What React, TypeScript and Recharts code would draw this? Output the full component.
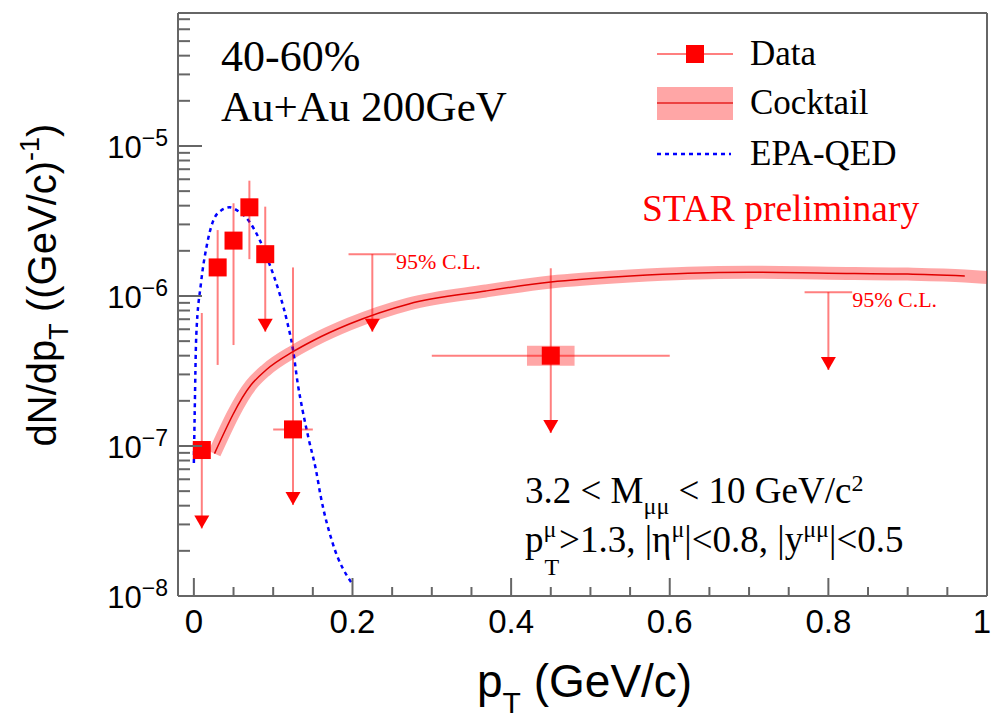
import React from 'react';
import {
  ComposedChart,
  XAxis,
  YAxis,
  Line,
  Scatter,
  ErrorBar,
  ReferenceArea,
  ReferenceLine,
} from 'recharts';

const W = 992;
const H = 719;
const X_MIN = -0.02;
const X_MAX = 1.0;
const Y_MIN = 1e-8;
const Y_MAX = 7.7e-5;

// measured points
const dataPt = [0.01, 0.03, 0.05, 0.07, 0.09, 0.125, 0.45];
const dataVal = [9.4e-8, 1.55e-6, 2.34e-6, 3.9e-6, 1.9e-6, 1.29e-7, 4.0e-7];
const dataUp = [7.7e-7, 2.75e-6, 4.15e-6, 5.87e-6, 3.94e-6, 1.55e-6, 1.53e-6];
const dataDown = [2.82e-8, 3.47e-7, 4.71e-7, 1.76e-6, 5.78e-7, 4.04e-8, 1.22e-7];
const dataArrow = [true, false, false, false, true, true, true];
const dataXErr = [0, 0, 0, 0, 0, 0.025, 0.15];

// systematic box (0.45 point)
const sysPt = 0.45;
const sysHalf = 0.03;
const sysLo = 3.43e-7;
const sysHi = 4.66e-7;

// 95% C.L. upper limits
const limitPt = [0.225, 0.8];
const limitVal = [1.9e-6, 1.06e-6];
const limitTip = [5.78e-7, 3.21e-7];
const limitXErr = [0.03, 0.03];

// bins drawn on the bottom edge
const zeroBinLo = [0.187, 0.758];
const zeroBinHi = [0.26, 0.836];

// cocktail
const cocktailPt = [0.026, 0.072, 0.091, 0.125, 0.15, 0.196, 0.271, 0.368, 0.45, 0.55, 0.623, 0.7, 0.8, 0.9, 0.972];
const cocktailVal = [8.9e-8, 2.55e-7, 3.21e-7, 4.25e-7, 5.03e-7, 6.5e-7, 8.85e-7, 1.08e-6, 1.24e-6, 1.36e-6, 1.42e-6, 1.44e-6, 1.42e-6, 1.4e-6, 1.36e-6];
const bandEndPt = 1.0;
const bandEndVal = 1.33e-6;

// EPA-QED
const epaPt = [0.0, 0.001, 0.003, 0.009, 0.016, 0.024, 0.035, 0.045, 0.057, 0.07, 0.083, 0.095, 0.108, 0.118, 0.125, 0.131, 0.137, 0.145, 0.154, 0.16, 0.175, 0.199];
const epaVal = [7.7e-8, 1.6e-7, 5.4e-7, 1.22e-6, 2.13e-6, 3.13e-6, 3.74e-6, 3.9e-6, 3.65e-6, 3.13e-6, 2.36e-6, 1.65e-6, 1.04e-6, 6.6e-7, 4.4e-7, 2.6e-7, 1.74e-7, 1.1e-7, 6.9e-8, 4.6e-8, 2.25e-8, 1.22e-8];

const xTicks = [0, 0.05, 0.1, 0.15, 0.2, 0.25, 0.3, 0.35, 0.4, 0.45, 0.5, 0.55, 0.6, 0.65, 0.7, 0.75, 0.8, 0.85, 0.9, 0.95, 1.0];
const yDecades = [1e-8, 1e-7, 1e-6, 1e-5];
const yExpLabels = ['\u22128', '\u22127', '\u22126', '\u22125'];
const yMantissa = [2, 3, 4, 5, 6, 7, 8, 9];

const yTicks = [
  ...yDecades,
  ...yDecades.flatMap((d) => yMantissa.map((m) => m * d)).filter((v) => v <= Y_MAX),
];

const RED = '#ff0000';
const BAR = 'rgba(255,0,0,0.5)';
const FRAME = '#666';
const SANS = '"Liberation Sans", Arial, sans-serif';
const SERIF = '"Liberation Serif", "Times New Roman", serif';

const points = dataPt.map((x, i) => ({
  x,
  y: dataVal[i],
  ex: dataXErr[i],
  ey: [dataVal[i] - dataDown[i], dataUp[i] - dataVal[i]],
}));
const arrows = [
  ...dataPt.map((x, i) => ({ x, y: dataDown[i], on: dataArrow[i] })).filter((p) => p.on),
  ...limitPt.map((x, i) => ({ x, y: limitTip[i], on: true })),
];
const limits = limitPt.map((x, i) => ({
  x,
  y: limitVal[i],
  ex: limitXErr[i],
  ey: [limitVal[i] - limitTip[i], 0],
}));
const limitLabels = limitPt.map((x, i) => ({ x: x + limitXErr[i], y: limitVal[i] }));
const cocktail = cocktailPt.map((x, i) => ({ x, y: cocktailVal[i] }));
const band = [...cocktail, { x: bandEndPt, y: bandEndVal }];
const epa = epaPt.map((x, i) => ({ x, y: epaVal[i] }));

const XTick = (props: any) => {
  const { x, y, payload } = props;
  const v = payload.value;
  const major = Math.abs(v * 5 - Math.round(v * 5)) < 1e-6;
  const last = v >= X_MAX - 1e-9;
  return (
    <g>
      <line x1={x} x2={x} y1={y} y2={y - (major ? 18 : 9)} stroke={FRAME} strokeWidth={2} />
      {major && (
        <text
          x={last ? x + 4 : x}
          y={y + 37}
          textAnchor={last ? 'end' : 'middle'}
          fontSize={33}
          fontFamily={SANS}
          fill="#000"
        >
          {String(Math.round(v * 10) / 10)}
        </text>
      )}
    </g>
  );
};

const YTick = (props: any) => {
  const { x, y, payload } = props;
  const idx = yDecades.findIndex((d) => Math.abs(d - payload.value) / d < 1e-6);
  const major = idx >= 0;
  return (
    <g>
      <line x1={x} x2={x + (major ? 24 : 12)} y1={y} y2={y} stroke={FRAME} strokeWidth={2} />
      {major && (
        <text x={x - 10} y={y + 12} textAnchor="end" fontSize={31} fontFamily={SANS} fill="#000">
          10
          <tspan dy={-11.6} fontSize={23}>
            {yExpLabels[idx]}
          </tspan>
        </text>
      )}
    </g>
  );
};

const Square = (props: any) => {
  const { cx, cy } = props;
  return <rect x={cx - 9} y={cy - 9} width={18} height={18} fill={RED} />;
};

const ArrowHead = (props: any) => {
  const { cx, cy } = props;
  return <polygon points={`${cx - 7.5},${cy - 13} ${cx + 7.5},${cy - 13} ${cx},${cy}`} fill={RED} />;
};

const Nothing = () => <g />;

const ClLabel = (props: any) => {
  const { cx, cy } = props;
  return (
    <text x={cx} y={cy + 15} fontSize={22} fontFamily={SERIF} fill={RED}>
      95% C.L.
    </text>
  );
};

export default function App() {
  return (
    <div style={{ position: 'absolute', left: 0, top: 0, width: W, height: H, background: '#fff' }}>
      <ComposedChart
        width={W}
        height={H}
        margin={{ top: 13, right: 5, bottom: 0, left: 0 }}
        style={{ fontFamily: SANS }}
      >
        <XAxis
          dataKey="x"
          type="number"
          domain={[X_MIN, X_MAX]}
          allowDataOverflow
          ticks={xTicks}
          tick={<XTick />}
          tickSize={0}
          tickMargin={0}
          height={123}
          axisLine={{ stroke: FRAME, strokeWidth: 2 }}
          interval={0}
        />
        <YAxis
          type="number"
          scale="log"
          domain={[Y_MIN, Y_MAX]}
          allowDataOverflow
          ticks={yTicks}
          tick={<YTick />}
          tickSize={0}
          tickMargin={0}
          width={178}
          axisLine={{ stroke: FRAME, strokeWidth: 2 }}
          interval={0}
        />
        <ReferenceLine x={X_MAX} stroke={FRAME} strokeWidth={2} />
        <ReferenceLine y={Y_MAX} stroke={FRAME} strokeWidth={2} />
        {zeroBinLo.map((lo, i) => (
          <ReferenceLine
            key={`zb${i}`}
            segment={[{ x: lo, y: Y_MIN }, { x: zeroBinHi[i], y: Y_MIN }]}
            stroke={RED}
            strokeOpacity={0.6}
            strokeWidth={2}
          />
        ))}
        <ReferenceArea
          x1={sysPt - sysHalf}
          x2={sysPt + sysHalf}
          y1={sysLo}
          y2={sysHi}
          fill={RED}
          fillOpacity={0.35}
          stroke="none"
        />
        <Line
          data={band}
          dataKey="y"
          type="monotone"
          stroke={RED}
          strokeOpacity={0.35}
          strokeWidth={13}
          dot={false}
          activeDot={false}
          isAnimationActive={false}
        />
        <Line
          data={cocktail}
          dataKey="y"
          type="monotone"
          stroke="#e00000"
          strokeWidth={1.5}
          dot={false}
          activeDot={false}
          isAnimationActive={false}
        />
        <Line
          data={epa}
          dataKey="y"
          type="monotone"
          stroke="#0000ff"
          strokeWidth={2.5}
          strokeDasharray="4 4"
          dot={false}
          activeDot={false}
          isAnimationActive={false}
        />
        <Scatter data={limits} dataKey="y" shape={<Nothing />} isAnimationActive={false}>
          <ErrorBar dataKey="ex" direction="x" width={0} stroke={BAR} strokeWidth={2} />
          <ErrorBar dataKey="ey" direction="y" width={0} stroke={BAR} strokeWidth={2} />
        </Scatter>
        <Scatter data={points} dataKey="y" shape={<Square />} isAnimationActive={false}>
          <ErrorBar dataKey="ex" direction="x" width={0} stroke={BAR} strokeWidth={2} />
          <ErrorBar dataKey="ey" direction="y" width={0} stroke={BAR} strokeWidth={2} />
        </Scatter>
        <Scatter data={arrows} dataKey="y" shape={<ArrowHead />} isAnimationActive={false} />
        <Scatter data={limitLabels} dataKey="y" shape={<ClLabel />} isAnimationActive={false} />
      </ComposedChart>

      <svg
        width={W}
        height={H}
        style={{ position: 'absolute', left: 0, top: 0, pointerEvents: 'none' }}
      >
        {/* system labels */}
        <text x={221} y={70.7} fontSize={44} fontFamily={SERIF} fill="#000">40-60%</text>
        <text x={221} y={120.7} fontSize={43} fontFamily={SERIF} fill="#000">Au+Au 200GeV</text>

        {/* legend */}
        <line x1={657} x2={733} y1={54} y2={54} stroke={BAR} strokeWidth={2} />
        <rect x={686} y={45} width={18} height={18} fill={RED} />
        <text x={750} y={65} fontSize={35} fontFamily={SERIF} fill="#000">Data</text>
        <rect x={657} y={87} width={76} height={33} fill={RED} fillOpacity={0.35} />
        <line x1={657} x2={733} y1={103} y2={103} stroke="#e00000" strokeWidth={2} strokeOpacity={0.6} />
        <text x={750} y={114} fontSize={35} fontFamily={SERIF} fill="#000">Cocktail</text>
        <line x1={657} x2={731} y1={154} y2={154} stroke="#0000ff" strokeWidth={2.5} strokeDasharray="4 4" />
        <text x={750} y={165} fontSize={35} fontFamily={SERIF} fill="#000">EPA-QED</text>
        <text x={642} y={221} fontSize={37.5} fontFamily={SERIF} fill={RED}>STAR preliminary</text>

        {/* kinematic cuts */}
        <text x={525} y={503} fontSize={37} fontFamily={SERIF} fill="#000">
          3.2 &lt; M
          <tspan dy={11} fontSize={24}>μμ</tspan>
          <tspan dy={-11}> &lt; 10 GeV/c</tspan>
          <tspan dy={-12} fontSize={24}>2</tspan>
        </text>
        <text x={525} y={551.7} fontSize={37} fontFamily={SERIF} fill="#000">
          p
          <tspan y={537} fontSize={24}>μ</tspan>
          <tspan y={575} dx={-12} fontSize={24}>T</tspan>
          <tspan y={551.7}>&gt;1.3, |η</tspan>
          <tspan y={537} fontSize={24}>μ</tspan>
          <tspan y={551.7}>|&lt;0.8, |y</tspan>
          <tspan y={537} fontSize={24}>μμ</tspan>
          <tspan y={551.7}>|&lt;0.5</tspan>
        </text>

        {/* axis titles */}
        <text x={477} y={697} fontSize={46} fontFamily={SANS} fill="#000">
          p
          <tspan dy={16} fontSize={30}>T</tspan>
          <tspan dy={-16}> (GeV/c)</tspan>
        </text>
        <text
          transform="translate(56,285) rotate(-90)"
          textAnchor="middle"
          fontSize={40}
          fontFamily={SANS}
          fill="#000"
        >
          dN/dp
          <tspan dy={12} fontSize={27}>T</tspan>
          <tspan dy={-12}> ((GeV/c)</tspan>
          <tspan dy={-17} fontSize={27}>-1</tspan>
          <tspan dy={17}>)</tspan>
        </text>
      </svg>
    </div>
  );
}
